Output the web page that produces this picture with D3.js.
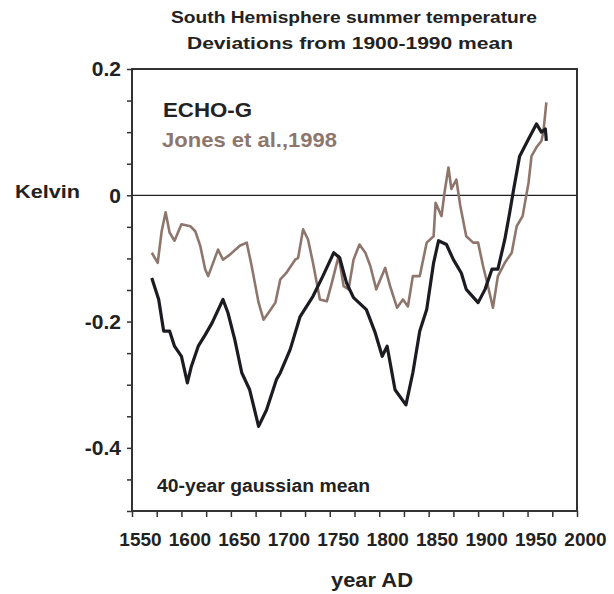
<!DOCTYPE html>
<html>
<head>
<meta charset="utf-8">
<script src="https://cdn.jsdelivr.net/npm/d3@7"></script>
<style>
  body { margin: 0; background: #fff; }
  text { font-family: "Liberation Sans", Arial, sans-serif; font-weight: bold; }
</style>
</head>
<body>
<div id="chart"></div>
<script>
// ECHO-G simulation, 40-year gaussian mean (K)
var echoYears = [1570, 1577, 1582, 1588, 1593, 1600, 1606, 1610, 1617, 1624, 1631, 1642, 1647, 1654,
    1661, 1669, 1678, 1686, 1696, 1700, 1710, 1720, 1733, 1743, 1754, 1760, 1767, 1774, 1787, 1796,
    1803, 1808, 1816, 1827, 1834, 1841, 1848, 1855, 1860, 1868, 1875, 1883, 1888, 1900, 1907, 1914,
    1920, 1927, 1932, 1936, 1942, 1951, 1959, 1964, 1968, 1969];
var echoValues = [-0.131, -0.165, -0.215, -0.215, -0.239, -0.255, -0.297, -0.271, -0.239, -0.221, -0.202, -0.165, -0.186, -0.229,
    -0.281, -0.308, -0.366, -0.340, -0.292, -0.281, -0.244, -0.192, -0.160, -0.128, -0.091, -0.099, -0.139, -0.162, -0.181, -0.218,
    -0.255, -0.239, -0.308, -0.332, -0.281, -0.215, -0.181, -0.107, -0.072, -0.078, -0.102, -0.123, -0.149, -0.170, -0.149, -0.117,
    -0.117, -0.070, -0.027, 0.010, 0.062, 0.089, 0.113, 0.100, 0.105, 0.086];

// Jones et al. 1998 reconstruction
var jonesYears = [1570, 1576, 1580, 1584, 1588, 1593, 1600, 1609, 1614, 1619, 1624, 1627, 1632, 1637, 1642,
    1649, 1659, 1666, 1671, 1678, 1683, 1688, 1695, 1700, 1706, 1715, 1718, 1723, 1728, 1733, 1740,
    1747, 1752, 1759, 1764, 1769, 1774, 1780, 1786, 1791, 1797, 1806, 1811, 1818, 1824, 1829, 1834,
    1841, 1848, 1855, 1857, 1863, 1866, 1870, 1873, 1878, 1882, 1888, 1895, 1900, 1905, 1910, 1915,
    1920, 1927, 1934, 1939, 1945, 1951, 1954, 1959, 1964, 1966, 1969];
var jonesValues = [-0.091, -0.107, -0.057, -0.027, -0.059, -0.072, -0.046, -0.049, -0.057, -0.080, -0.117, -0.128, -0.107, -0.086, -0.102,
    -0.094, -0.080, -0.075, -0.112, -0.170, -0.197, -0.186, -0.170, -0.133, -0.123, -0.102, -0.099, -0.054, -0.070, -0.107, -0.165,
    -0.168, -0.139, -0.096, -0.144, -0.149, -0.102, -0.078, -0.091, -0.112, -0.149, -0.115, -0.144, -0.178, -0.165, -0.176, -0.128,
    -0.128, -0.075, -0.065, -0.012, -0.033, 0.004, 0.044, 0.010, 0.025, -0.017, -0.065, -0.075, -0.075, -0.112, -0.144, -0.178,
    -0.128, -0.107, -0.091, -0.049, -0.033, 0.020, 0.062, 0.076, 0.086, 0.100, 0.147];

var yLabelTicks = [0.2, 0, -0.2, -0.4];
var xLabelTicks = [1550, 1600, 1650, 1700, 1750, 1800, 1850, 1900, 1950, 2000];

var width = 614, height = 594;
var margin = {top: 69, right: 37, bottom: 83, left: 132};

var svg = d3.select('#chart')
    .append('svg')
    .attr('width', width)
    .attr('height', height);

var x = d3.scaleLinear()
    .domain([1550, 2000])
    .range([margin.left, width - margin.right]);

var y = d3.scaleLinear()
    .domain([-0.5, 0.2])
    .range([height - margin.bottom, margin.top]);

// the source font is a bit wider than Liberation Sans, so stretch to the measured width
function label(str, px, py, size, len, color) {
    return svg.append('text')
        .attr('x', px).attr('y', py)
        .attr('font-size', size)
        .attr('fill', color || '#222')
        .attr('textLength', len)
        .attr('lengthAdjust', 'spacingAndGlyphs')
        .text(str);
}

// titles
label('South Hemisphere summer temperature', 171, 23, 16.5, 366);
label('Deviations from 1900-1990 mean', 187, 49, 16.5, 326);

// zero line
svg.append('line')
    .attr('x1', x(1550)).attr('x2', x(2000))
    .attr('y1', y(0)).attr('y2', y(0))
    .attr('stroke', '#222')
    .attr('stroke-width', 1.2);

// frame
svg.append('rect')
    .attr('x', x(1550)).attr('y', y(0.2))
    .attr('width', x(2000) - x(1550))
    .attr('height', y(-0.5) - y(0.2))
    .attr('fill', 'none')
    .attr('stroke', '#333')
    .attr('stroke-width', 2);

// y axis
var yAxis = d3.axisLeft(y)
    .tickValues(d3.range(-10, 5).map(d => d * 0.05))
    .tickSize(5)
    .tickFormat(d => {
        var hit = yLabelTicks.find(v => Math.abs(v - d) < 1e-9);
        if (hit === undefined) return '';
        return hit === 0 ? '0' : hit.toFixed(1);
    });

var gy = svg.append('g')
    .attr('transform', 'translate(' + margin.left + ',0)')
    .call(yAxis);
gy.select('.domain').remove();
gy.selectAll('line').attr('stroke', '#333').attr('stroke-width', 1.5);
gy.selectAll('text')
    .attr('font-size', 21)
    .attr('fill', '#222')
    .attr('font-family', '"Liberation Sans", Arial, sans-serif')
    .attr('font-weight', 'bold')
    .attr('x', -11);

// x axis
var xAxis = d3.axisBottom(x)
    .tickValues(d3.range(1550, 2001, 25))
    .tickSize(6)
    .tickFormat(d => xLabelTicks.indexOf(d) >= 0 ? d : '');

var gx = svg.append('g')
    .attr('transform', 'translate(0,' + (height - margin.bottom) + ')')
    .call(xAxis);
gx.select('.domain').remove();
gx.selectAll('line').attr('stroke', '#333').attr('stroke-width', 1.5);
gx.selectAll('text')
    .attr('font-size', 19)
    .attr('fill', '#222')
    .attr('font-family', '"Liberation Sans", Arial, sans-serif')
    .attr('font-weight', 'bold')
    .attr('x', 8)
    .attr('y', 22);

// axis titles
label('year AD', 331, 587, 20, 82);
label('Kelvin', 15, 198, 18, 65);

// series lines
var line = d3.line()
    .x(d => x(d[0]))
    .y(d => y(d[1]))
    .curve(d3.curveLinear);

svg.append('path')
    .datum(d3.zip(jonesYears, jonesValues))
    .attr('d', line)
    .attr('fill', 'none')
    .attr('stroke', '#8e766d')
    .attr('stroke-width', 2.6)
    .attr('stroke-linejoin', 'round');

svg.append('path')
    .datum(d3.zip(echoYears, echoValues))
    .attr('d', line)
    .attr('fill', 'none')
    .attr('stroke', '#1c1b22')
    .attr('stroke-width', 3.2)
    .attr('stroke-linejoin', 'round');

// legend and note
label('ECHO-G', 163, 117, 21, 89);
label('Jones et al.,1998', 162, 147, 21, 175, '#8e766d');
label('40-year gaussian mean', 157, 492, 18, 213);
</script>
</body>
</html>
